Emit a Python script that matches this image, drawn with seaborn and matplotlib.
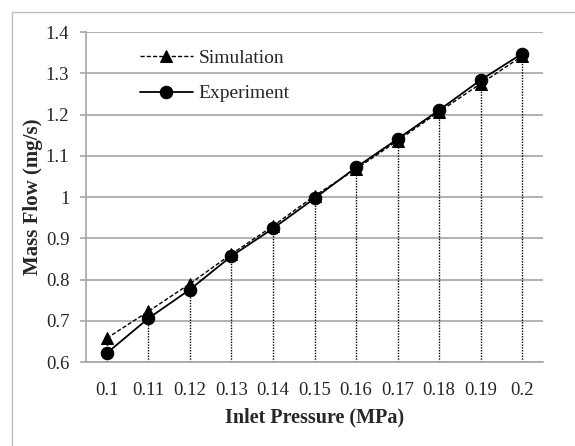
import numpy as np
import pandas as pd
import seaborn as sns
import matplotlib.pyplot as plt
from matplotlib.patches import Rectangle

# data
pressure = ['0.1', '0.11', '0.12', '0.13', '0.14', '0.15', '0.16', '0.17', '0.18', '0.19', '0.2']
simulation = [0.658, 0.723, 0.790, 0.862, 0.930, 1.003, 1.068, 1.137, 1.207, 1.275, 1.342]
experiment = [0.622, 0.706, 0.776, 0.857, 0.924, 0.997, 1.072, 1.141, 1.211, 1.284, 1.348]
y_ticks = [0.6, 0.7, 0.8, 0.9, 1.0, 1.1, 1.2, 1.3, 1.4]

df = pd.DataFrame({'pressure': pressure, 'Simulation': simulation, 'Experiment': experiment})

sns.set_style('white')
plt.rcParams['font.family'] = ['Liberation Serif', 'DejaVu Serif']

fig = plt.figure(figsize=(5.75, 4.46), dpi=100)
ax = fig.add_axes([0.1496, 0.188, 0.7948, 0.740])

grid_col = '#a6a6a6'

# dotted drop lines from the upper point down to the axis
tops = np.maximum(df['Simulation'], df['Experiment'])
ax.vlines(df['pressure'], y_ticks[0], tops, colors='black', linestyles=(0, (1, 1)), linewidth=1, zorder=2)

sns.lineplot(data=df, x='pressure', y='Simulation', sort=False, ax=ax, color='black',
             linestyle=(0, (3, 1.5)), linewidth=1, marker='^', markersize=9,
             markeredgecolor='black', label='Simulation', zorder=3)
sns.lineplot(data=df, x='pressure', y='Experiment', sort=False, ax=ax, color='black',
             linestyle='-', linewidth=1.3, marker='o', markersize=9,
             markeredgecolor='black', label='Experiment', zorder=4)

ax.set_xlim(-0.5, len(pressure) - 0.5)
ax.set_ylim(y_ticks[0], y_ticks[-1])
ax.set_yticks(y_ticks)
ax.set_yticklabels([f'{v:g}' for v in y_ticks])
ax.yaxis.grid(True, color=grid_col, linewidth=1.2)
ax.xaxis.grid(False)
ax.set_axisbelow(True)

for side in ['top', 'right']:
    ax.spines[side].set_visible(False)
for side in ['left', 'bottom']:
    ax.spines[side].set_color(grid_col)
    ax.spines[side].set_linewidth(1.2)

ax.tick_params(axis='y', left=True, length=4, width=1.2, color=grid_col, pad=8, labelsize=13.5)
ax.tick_params(axis='x', bottom=False, pad=11, labelsize=13.5)

ax.set_xlabel('Inlet Pressure (MPa)', fontsize=14.5, fontweight='bold', labelpad=6)
ax.set_ylabel('Mass Flow (mg/s)', fontsize=15, fontweight='bold', labelpad=2)

ax.legend(loc='upper left', bbox_to_anchor=(0.08, 1.0), frameon=False, fontsize=14,
          handlelength=2.7, handletextpad=0.3, labelspacing=0.9)

# light border around the chart area (cut off on right and bottom)
fig.patches.append(Rectangle((12 / 575, -0.1), 1.2, 0.1 + (1 - 12 / 446), transform=fig.transFigure,
                             fill=False, edgecolor='#bfbfbf', linewidth=1, zorder=0))

fig.savefig('out.png', dpi=100)
